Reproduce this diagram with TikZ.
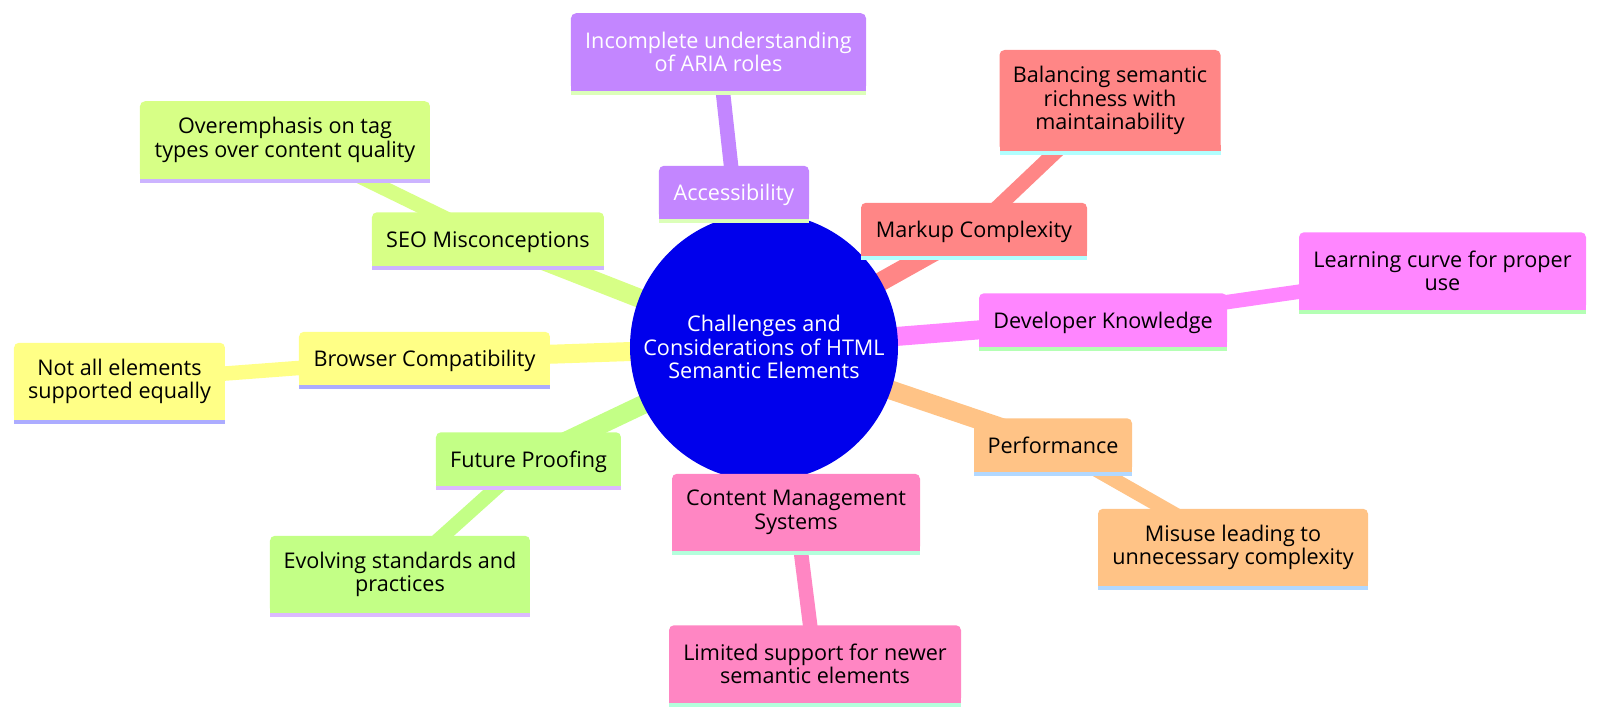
\documentclass[tikz,border=0pt]{standalone}
\usepackage{fontspec}
\setmainfont{Open Sans}
\usetikzlibrary{backgrounds}
\definecolor{rootblue}{RGB}{0,0,236}
\definecolor{redfill}{RGB}{255,134,134}
\definecolor{redline}{RGB}{178,255,255}
\definecolor{orfill}{RGB}{255,195,134}
\definecolor{orline}{RGB}{178,216,255}
\definecolor{yelfill}{RGB}{255,255,134}
\definecolor{yelline}{RGB}{172,172,255}
\definecolor{limefill}{RGB}{215,255,134}
\definecolor{limeline}{RGB}{204,180,255}
\definecolor{greenfill}{RGB}{195,255,134}
\definecolor{greenline}{RGB}{220,185,255}
\definecolor{purpfill}{RGB}{195,134,255}
\definecolor{purpline}{RGB}{220,255,185}
\definecolor{magfill}{RGB}{255,134,255}
\definecolor{magline}{RGB}{180,255,180}
\definecolor{pinkfill}{RGB}{255,134,195}
\definecolor{pinkline}{RGB}{180,255,220}
\newcommand{\mmfont}{\fontsize{10.8}{11.75}\selectfont}
\tikzstyle{rootnode} = [circle, minimum size=134pt, inner sep=0pt, fill=rootblue, text=white, align=center, font=\mmfont]
\tikzstyle{topic} = [rectangle, rounded corners=2.5pt, inner sep=2pt, outer sep=0pt, align=center, text centered, font=\mmfont]
\tikzstyle{one} = [minimum height=26.75pt, text height=8.2pt, text depth=0pt]
\tikzstyle{two} = [minimum height=38.75pt]
\tikzstyle{three} = [minimum height=50.5pt]
\tikzstyle{accbox} = [topic, fill=purpfill, text=white]
\tikzstyle{markupbox} = [topic, fill=redfill]
\tikzstyle{devbox} = [topic, fill=magfill]
\tikzstyle{perfbox} = [topic, fill=orfill]
\tikzstyle{cmsbox} = [topic, fill=pinkfill]
\tikzstyle{futurebox} = [topic, fill=greenfill]
\tikzstyle{browserbox} = [topic, fill=yelfill]
\tikzstyle{seobox} = [topic, fill=limefill]
\tikzstyle{trunk} = [line width=9.5pt]
\tikzstyle{twig} = [line width=7.25pt]
\begin{document}
\begin{tikzpicture}[node distance=50pt]
\useasboundingbox (-382pt,-185.5pt) rectangle (418pt,173.5pt);

\node (root) [rootnode] {Challenges and\\Considerations of HTML\\Semantic Elements};

\node (access) [accbox, one, minimum width=75pt, above of=root, xshift=-15pt, yshift=27.25pt] {Accessibility};
\node (aria) [accbox, two, minimum width=147.5pt, above of=access, xshift=-7.75pt, yshift=20.25pt] {Incomplete understanding\\of ARIA roles};
\node (markup) [markupbox, one, minimum width=113pt, right of=root, xshift=55pt, yshift=58.75pt] {Markup Complexity};
\node (balance) [markupbox, three, minimum width=110.5pt, above of=markup, xshift=68pt, yshift=14.5pt] {Balancing semantic\\richness with\\maintainability};
\node (dev) [devbox, one, minimum width=124pt, right of=root, xshift=119.5pt, yshift=13.5pt] {Developer Knowledge};
\node (learn) [devbox, two, minimum width=143.5pt, right of=dev, xshift=119.75pt, yshift=24.5pt] {Learning curve for proper\\use};
\node (perf) [perfbox, one, minimum width=79pt, right of=root, xshift=94.5pt, yshift=-49pt] {Performance};
\node (misuse) [perfbox, two, minimum width=135pt, below of=perf, xshift=90pt, yshift=-1.25pt] {Misuse leading to\\unnecessary complexity};
\node (cms) [cmsbox, two, minimum width=124pt, below of=root, xshift=16pt, yshift=-32.75pt] {Content Management\\Systems};
\node (limited) [cmsbox, two, minimum width=146pt, below of=cms, xshift=9.5pt, yshift=-25.75pt] {Limited support for newer\\semantic elements};
\node (future) [futurebox, one, minimum width=92.5pt, left of=root, xshift=-67.75pt, yshift=-56pt] {Future Proofing};
\node (evolve) [futurebox, two, minimum width=130pt, below of=future, xshift=-64.25pt, yshift=-7.75pt] {Evolving standards and\\practices};
\node (browser) [browserbox, one, minimum width=125.5pt, left of=root, xshift=-119.75pt, yshift=-5.75pt] {Browser Compatibility};
\node (notall) [browserbox, two, minimum width=105.5pt, left of=browser, xshift=-102.5pt, yshift=-11.5pt] {Not all elements\\supported equally};
\node (seo) [seobox, one, minimum width=116pt, left of=root, xshift=-88pt, yshift=54pt] {SEO Misconceptions};
\node (overemph) [seobox, two, minimum width=145pt, left of=seo, xshift=-51.5pt, yshift=49.5pt] {Overemphasis on tag\\types over content quality};

% square bottoms and coloured underlines
\foreach \n/\c/\s in {access/purpfill/purpline, aria/purpfill/purpline, markup/redfill/redline, balance/redfill/redline, dev/magfill/magline, learn/magfill/magline, perf/orfill/orline, misuse/orfill/orline, cms/pinkfill/pinkline, limited/pinkfill/pinkline, future/greenfill/greenline, evolve/greenfill/greenline, browser/yelfill/yelline, notall/yelfill/yelline, seo/limefill/limeline, overemph/limefill/limeline} {
  \fill [\c] (\n.south west) rectangle ([yshift=3pt]\n.south east);
  \fill [\s] (\n.south west) rectangle ([yshift=-2pt]\n.south east);
}

\begin{scope}[on background layer]
\draw [trunk, draw=purpfill] (root.center) -- (access.center);
\draw [twig, draw=purpfill] (access.center) -- (aria.center);
\draw [trunk, draw=redfill] (root.center) -- (markup.center);
\draw [twig, draw=redfill] (markup.center) -- (balance.center);
\draw [trunk, draw=magfill] (root.center) -- (dev.center);
\draw [twig, draw=magfill] (dev.center) -- (learn.center);
\draw [trunk, draw=orfill] (root.center) -- (perf.center);
\draw [twig, draw=orfill] (perf.center) -- (misuse.center);
\draw [trunk, draw=pinkfill] (root.center) -- (cms.center);
\draw [twig, draw=pinkfill] (cms.center) -- (limited.center);
\draw [trunk, draw=greenfill] (root.center) -- (future.center);
\draw [twig, draw=greenfill] (future.center) -- (evolve.center);
\draw [trunk, draw=yelfill] (root.center) -- (browser.center);
\draw [twig, draw=yelfill] (browser.center) -- (notall.center);
\draw [trunk, draw=limefill] (root.center) -- (seo.center);
\draw [twig, draw=limefill] (seo.center) -- (overemph.center);
\end{scope}

\end{tikzpicture}
\end{document}
